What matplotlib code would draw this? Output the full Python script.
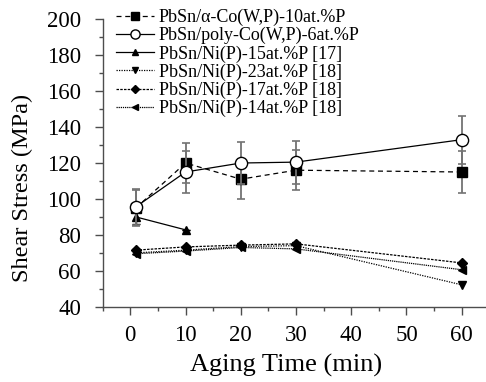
import matplotlib
matplotlib.use("Agg")
import matplotlib.pyplot as plt
from matplotlib.ticker import MultipleLocator
from matplotlib.lines import Line2D

plt.rcParams['font.family'] = ['Liberation Serif', 'DejaVu Serif']

x = [1, 10, 20, 30, 60]
labels = ["PbSn/α-Co(W,P)-10at.%P", "PbSn/poly-Co(W,P)-6at.%P",
          "PbSn/Ni(P)-15at.%P [17]", "PbSn/Ni(P)-23at.%P [18]",
          "PbSn/Ni(P)-17at.%P [18]", "PbSn/Ni(P)-14at.%P [18]"]
alpha_co = [95, 120, 111, 116, 115]
alpha_co_err = [10, 11.3, 11, 11, 11.5]
poly_co = [95.6, 115, 120, 120.5, 133]
poly_co_err = [10, 11.5, 11.5, 12, 13.4]
x15 = [1, 10]
ni15 = [90, 82.8]
ni15_err = [4, 0]
ni23 = [70, 71.5, 73.5, 74, 52.2]
ni17 = [71.5, 73.3, 74.3, 75, 64.4]
ni14 = [69.5, 71, 73, 72.2, 60.6]

fig = plt.figure(figsize=(4.86, 3.82), dpi=100)
ax = fig.add_axes([0.2113, 0.197, 0.7887, 0.7525])

ecol = '0.45'
styles = [
    dict(marker='s', ls=(0, (4, 3)), mfc='black', ms=7.2),
    dict(marker='o', ls='-', mfc='white', ms=8.8),
    dict(marker='^', ls='-', mfc='black', ms=6),
    dict(marker='v', ls=(0, (1, 1)), mfc='black', ms=6),
    dict(marker='D', ls=(0, (2, 1)), mfc='black', ms=5),
    dict(marker='<', ls=(0, (1, 0.7)), mfc='black', ms=6),
]

ax.errorbar(x, alpha_co, yerr=alpha_co_err, fmt=styles[0]['marker'], ls=styles[0]['ls'],
            color='black', ms=styles[0]['ms'], lw=0.9, ecolor=ecol, elinewidth=1.3,
            capsize=3, capthick=1.2, zorder=3)
ax.errorbar(x, poly_co, yerr=poly_co_err, fmt=styles[1]['marker'], ls=styles[1]['ls'],
            color='black', mfc='white', ms=styles[1]['ms'], lw=0.9, ecolor=ecol,
            elinewidth=1.3, capsize=3, capthick=1.2, zorder=4)
ax.errorbar(x15, ni15, yerr=ni15_err, fmt=styles[2]['marker'], ls=styles[2]['ls'],
            color='black', ms=styles[2]['ms'], lw=0.9, ecolor='black', elinewidth=1.0,
            capsize=3, capthick=1.0, zorder=3)
for yv, st in zip([ni23, ni17, ni14], styles[3:]):
    ax.plot(x, yv, marker=st['marker'], ls=st['ls'], color='black', ms=st['ms'],
            lw=0.9, zorder=3)

ax.set_xlim(-5, 64.4)
ax.set_ylim(40, 200)
ax.set_xticks([0, 10, 20, 30, 40, 50, 60])
ax.xaxis.set_minor_locator(MultipleLocator(5))
ax.yaxis.set_major_locator(MultipleLocator(20))
ax.yaxis.set_minor_locator(MultipleLocator(10))
ax.spines['top'].set_visible(False)
ax.spines['right'].set_visible(False)
for s in ['left', 'bottom']:
    ax.spines[s].set_linewidth(1.0)
    ax.spines[s].set_color('0.3')
ax.tick_params(which='major', direction='out', length=5.5, width=1.0, labelsize=16.5,
               color='0.3')
ax.tick_params(axis='y', which='major', pad=10)
ax.tick_params(axis='x', which='major', pad=8)
ax.tick_params(which='minor', direction='out', length=3, width=1.0, color='0.3')
ax.set_xlabel("Aging Time (min)", fontsize=19)
ax.set_ylabel("Shear Stress (MPa)", fontsize=17.5)
ax.xaxis.set_label_coords(0.478, -0.165)
ax.yaxis.set_label_coords(-0.182, 0.415)

handles = [Line2D([], [], color='black', marker=st['marker'], ls=st['ls'], mfc=st['mfc'],
                  ms=st['ms'] * 0.75, lw=0.9) for st in styles]
fig.legend(handles, labels, loc='upper left', bbox_to_anchor=(0.212, 1.01),
           frameon=False, fontsize=13, handlelength=2.1, handletextpad=0.3,
           labelspacing=0.05, borderpad=0.2)

fig.savefig("out.png", dpi=100)
